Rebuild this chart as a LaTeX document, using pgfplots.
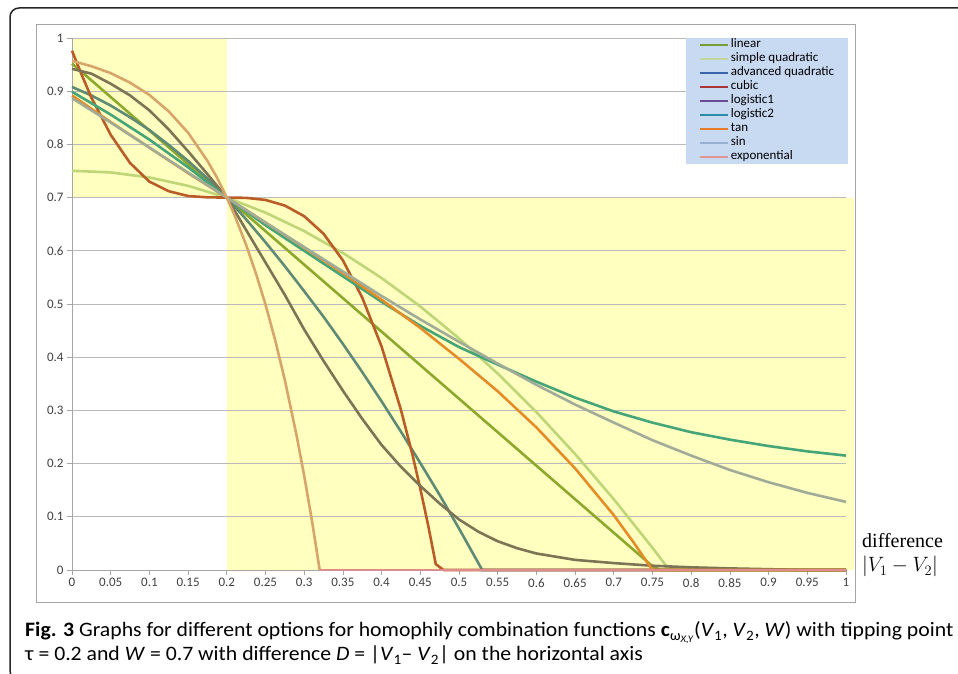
\documentclass[border=0pt]{standalone}
\usepackage{fontspec}
\setmainfont{Carlito}
\newfontfamily\capfont[FakeStretch=1.06]{Carlito}
\newfontfamily\serifface{Liberation Serif}
\usepackage{pgfplots}
\pgfplotsset{compat=1.18}
\definecolor{hl}{RGB}{255,255,192}
\definecolor{legbg}{RGB}{200,218,242}
\definecolor{tick}{RGB}{64,64,64}
% plotted colours (as seen)
\definecolor{pLin}{RGB}{140,168,45}
\definecolor{pSq}{RGB}{190,214,120}
\definecolor{pAq}{RGB}{95,138,118}
\definecolor{pCub}{RGB}{185,92,40}
\definecolor{pLogA}{RGB}{125,115,85}
\definecolor{pLogB}{RGB}{70,165,120}
\definecolor{pTan}{RGB}{228,140,40}
\definecolor{pSin}{RGB}{160,172,152}
\definecolor{pExp}{RGB}{215,165,105}
\definecolor{pExpZ}{RGB}{222,140,140}
% legend colours
\definecolor{lLin}{RGB}{118,158,52}
\definecolor{lSq}{RGB}{195,214,155}
\definecolor{lAq}{RGB}{60,100,170}
\definecolor{lCub}{RGB}{170,55,55}
\definecolor{lLogA}{RGB}{105,75,145}
\definecolor{lLogB}{RGB}{45,140,165}
\definecolor{lTan}{RGB}{230,125,45}
\definecolor{lSin}{RGB}{150,175,210}
\definecolor{lExp}{RGB}{220,150,150}
\begin{document}
\begin{tikzpicture}[x=1pt,y=1pt]
\path (0,0) rectangle (958,674);
% outer frame
\draw[overlay, line width=1.5pt, black!85, rounded corners=9pt] (10,-6) rectangle (990,666);
% inner chart frame
\draw[line width=0.8pt, black!35] (36,72) rectangle (855,650);
\begin{axis}[
  at={(72pt,104pt)}, anchor=south west,
  scale only axis, width=774pt, height=532pt,
  xmin=0, xmax=1, ymin=0, ymax=1,
  xtick={0,0.05,0.1,0.15,0.2,0.25,0.3,0.35,0.4,0.45,0.5,0.55,0.6,0.65,0.7,0.75,0.8,0.85,0.9,0.95,1},
  ytick={0,0.1,0.2,0.3,0.4,0.5,0.6,0.7,0.8,0.9,1},
  axis lines*=left,
  axis line style={draw=black!35, line width=0.8pt},
  tick align=outside, major tick length=5pt,
  tick style={draw=black!35, line width=0.8pt},
  ymajorgrids, grid style={draw=black!27, line width=0.8pt},
  ticklabel style={font=\fontsize{13}{15}\selectfont, text=tick},
  /pgf/number format/assume math mode=true,
  /pgf/number format/fixed, /pgf/number format/precision=2,
  clip=false, set layers,
  legend style={at={(0.7933,1)}, anchor=north west, fill=legbg, draw=none,
    inner xsep=12pt, inner ysep=0pt, font=\fontsize{13}{14}\selectfont,
    row sep=0pt, nodes={inner xsep=2pt, inner ysep=0pt, text height=9.5pt, text depth=4.5pt}},
  legend cell align=left,
  legend image code/.code={\draw[#1, line width=2.6pt] (0pt,0pt) -- (28pt,0pt);},
  every axis plot/.append style={line width=2.6pt},
]
% highlighted regions
\addplot[draw=none, fill=hl, on layer=axis background, forget plot] coordinates {(0,0.7) (0.2,0.7) (0.2,1) (0,1) (0,0.7)};
\addplot[draw=none, fill=hl, on layer=axis background, forget plot] coordinates {(0.2,0) (1.0103,0) (1.0103,0.7) (0.2,0.7) (0.2,0)};

\addlegendimage{lLin}\addlegendentry{linear}
\addlegendimage{lSq}\addlegendentry{simple quadratic}
\addlegendimage{lAq}\addlegendentry{advanced quadratic}
\addlegendimage{lCub}\addlegendentry{cubic}
\addlegendimage{lLogA}\addlegendentry{logistic1}
\addlegendimage{lLogB}\addlegendentry{logistic2}
\addlegendimage{lTan}\addlegendentry{tan}
\addlegendimage{lSin}\addlegendentry{sin}
\addlegendimage{lExp}\addlegendentry{exponential}

% linear
\addplot[pLin, forget plot] coordinates {(0,0.952) (0.2,0.7) (0.75,0.007) (0.76,0) (1,0)};
% simple quadratic
\addplot[pSq, forget plot] coordinates {(0,0.7504) (0.05,0.7473) (0.1,0.7378) (0.15,0.7221) (0.2,0.7) (0.25,0.6717) (0.3,0.637) (0.35,0.596) (0.4,0.5488) (0.45,0.4953) (0.5,0.4354) (0.55,0.3693) (0.6,0.2968) (0.65,0.218) (0.7,0.133) (0.75,0.0417) (0.77,0.0033) (0.78,0) (1,0)};
% advanced quadratic
\addplot[pAq, forget plot] coordinates {(0,0.908) (0.025,0.892) (0.05,0.873) (0.075,0.851) (0.1,0.827) (0.125,0.799) (0.15,0.769) (0.175,0.736) (0.2,0.7) (0.225,0.659) (0.25,0.616) (0.275,0.571) (0.3,0.524) (0.325,0.476) (0.35,0.425) (0.375,0.372) (0.4,0.317) (0.425,0.26) (0.45,0.201) (0.475,0.141) (0.5,0.078) (0.52,0.026) (0.53,0) (1,0)};
% cubic
\addplot[pCub, forget plot] coordinates {(0,0.976) (0.0125,0.931) (0.025,0.888) (0.05,0.818) (0.075,0.765) (0.1,0.73) (0.125,0.712) (0.15,0.703) (0.175,0.7005) (0.2,0.7) (0.225,0.6995) (0.25,0.6956) (0.275,0.685) (0.3,0.665) (0.325,0.632) (0.35,0.582) (0.375,0.512) (0.4,0.42) (0.425,0.301) (0.44,0.216) (0.45,0.153) (0.46,0.085) (0.47,0.011) (0.48,0) (1,0)};
% logistic1
\addplot[pLogA, forget plot] coordinates {(0,0.942) (0.025,0.933) (0.05,0.914) (0.075,0.892) (0.1,0.864) (0.125,0.828) (0.15,0.787) (0.175,0.744) (0.2,0.7) (0.225,0.639) (0.25,0.578) (0.275,0.517) (0.3,0.452) (0.325,0.393) (0.35,0.337) (0.375,0.284) (0.4,0.235) (0.425,0.194) (0.45,0.158) (0.475,0.125) (0.5,0.095) (0.525,0.072) (0.55,0.054) (0.575,0.041) (0.6,0.031) (0.65,0.019) (0.7,0.013) (0.75,0.008) (0.8,0.005) (0.85,0.003) (0.9,0.0015) (0.95,0) (1,0)};
% logistic2
\addplot[pLogB, forget plot] coordinates {(0,0.899) (0.05,0.856) (0.1,0.809) (0.15,0.757) (0.2,0.7) (0.25,0.648) (0.3,0.6) (0.35,0.552) (0.4,0.504) (0.45,0.459) (0.5,0.419) (0.55,0.386) (0.6,0.354) (0.65,0.324) (0.7,0.298) (0.75,0.277) (0.8,0.259) (0.85,0.245) (0.9,0.233) (0.95,0.223) (1,0.215)};
% tan
\addplot[pTan, forget plot] coordinates {(0,0.892) (0.05,0.842) (0.1,0.794) (0.15,0.746) (0.2,0.7) (0.25,0.653) (0.3,0.606) (0.35,0.558) (0.4,0.508) (0.45,0.455) (0.5,0.397) (0.55,0.336) (0.6,0.268) (0.65,0.191) (0.7,0.103) (0.725,0.053) (0.75,0) (1,0)};
% sin
\addplot[pSin, forget plot] coordinates {(0,0.887) (0.05,0.841) (0.1,0.794) (0.15,0.747) (0.2,0.7) (0.25,0.653) (0.3,0.607) (0.35,0.561) (0.4,0.515) (0.45,0.471) (0.5,0.429) (0.55,0.388) (0.6,0.348) (0.65,0.311) (0.7,0.277) (0.75,0.244) (0.8,0.215) (0.85,0.188) (0.9,0.165) (0.95,0.145) (1,0.128)};
% exponential
\addplot[pExp, forget plot] coordinates {(0,0.957) (0.025,0.947) (0.05,0.934) (0.075,0.916) (0.1,0.893) (0.125,0.862) (0.15,0.822) (0.175,0.769) (0.1875,0.737) (0.2,0.7) (0.21,0.667) (0.225,0.611) (0.2375,0.558) (0.25,0.499) (0.2625,0.432) (0.275,0.357) (0.29,0.254) (0.3,0.177) (0.31,0.093) (0.32,0)};
\addplot[pExpZ, forget plot] coordinates {(0.32,0) (1,0)};
\end{axis}
% right-hand axis note
\node[overlay, anchor=base west, inner sep=0pt, font=\serifface\fontsize{20}{24}\selectfont] at (862,126) {difference};
\node[overlay, anchor=base west, inner sep=0pt, font=\fontsize{20}{24}\selectfont] at (862,102) {$|V_1 - V_2|$};
% caption
\node[overlay, anchor=base west, inner sep=0pt, font=\capfont\fontsize{20.5}{24}\selectfont] at (25,37)
 {\textbf{Fig. 3} Graphs for different options for homophily combination functions \textbf{c}\textsubscript{ω\textsubscript{\itshape X,Y}}(\textit{V}\textsubscript{1}, \textit{V}\textsubscript{2}, \textit{W}) with tipping point};
\node[overlay, anchor=base west, inner sep=0pt, font=\capfont\fontsize{20.5}{24}\selectfont] at (25,13)
 {τ = 0.2 and \textit{W} = 0.7 with difference \textit{D} = |\textit{V}\textsubscript{1}– \textit{V}\textsubscript{2}| on the horizontal axis};
\end{tikzpicture}
\end{document}
